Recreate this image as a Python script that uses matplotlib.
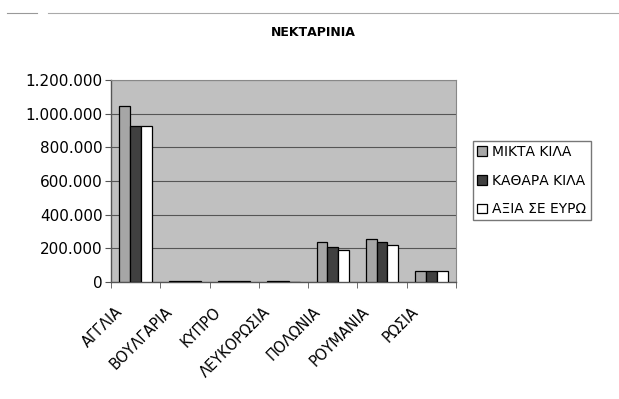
import numpy as np
import matplotlib.pyplot as plt
import matplotlib.transforms as mtransforms
from matplotlib.ticker import FuncFormatter, FixedLocator

plt.rcParams['font.family'] = ['DejaVu Sans']

countries = ['ΑΓΓΛΙΑ', 'ΒΟΥΛΓΑΡΙΑ', 'ΚΥΠΡΟ', 'ΛΕΥΚΟΡΩΣΙΑ', 'ΠΟΛΩΝΙΑ', 'ΡΟΥΜΑΝΙΑ', 'ΡΩΣΙΑ']
mikta = [1045000, 5000, 4000, 3000, 236000, 256000, 64000]
kathara = [925000, 4000, 3000, 3000, 210000, 236000, 64000]
axia = [925000, 3000, 3000, 2000, 190000, 222000, 64000]
series_names = ['ΜΙΚΤΑ ΚΙΛΑ', 'ΚΑΘΑΡΑ ΚΙΛΑ', 'ΑΞΙΑ ΣΕ ΕΥΡΩ']
colors = ['#a6a6a6', '#404040', '#ffffff']

fig = plt.figure(figsize=(6.19, 3.99), dpi=100)
ax = fig.add_axes([111 / 619, 1 - 282 / 399, 345 / 619, 202 / 399])
ax.set_facecolor('#c0c0c0')

x = np.arange(len(countries))
w = 0.22
for k, (vals, name, c) in enumerate(zip([mikta, kathara, axia], series_names, colors)):
    ax.bar(x + (k - 1) * w, vals, width=w, color=c, edgecolor='black',
           linewidth=0.9, label=name, zorder=3)

ax.set_xlim(-0.5, len(countries) - 0.5)
ax.set_ylim(0, 1200000)
ax.set_yticks(np.arange(0, 1200001, 200000))
ax.yaxis.set_major_formatter(FuncFormatter(lambda v, p: f'{int(v):,}'.replace(',', '.')))
ax.grid(axis='y', color='#555555', linewidth=0.8, zorder=1)
ax.tick_params(axis='y', labelsize=11, length=4, direction='out', color='#555555', pad=2)

ax.set_xticks(x)
ax.set_xticklabels(countries, rotation=45, ha='right', fontsize=10.5)
ax.tick_params(axis='x', which='major', length=0, pad=16)
shift = mtransforms.ScaledTranslation(-10 / 100, 0, fig.dpi_scale_trans)
for lbl in ax.get_xticklabels():
    lbl.set_transform(lbl.get_transform() + shift)
ax.xaxis.set_minor_locator(FixedLocator(np.arange(-0.5, len(countries), 1.0)))
ax.tick_params(axis='x', which='minor', length=4, color='#555555')

for s in ['top', 'right']:
    ax.spines[s].set_color('#888888')
for s in ['left', 'bottom']:
    ax.spines[s].set_color('#555555')
    ax.spines[s].set_linewidth(1.0)

fig.text(313 / 619, 1 - 32 / 399, 'ΝΕΚΤΑΡΙΝΙΑ', ha='center', va='center',
         fontsize=9, fontweight='bold')

leg = fig.legend(loc='upper left', bbox_to_anchor=(473 / 619, 1 - 141 / 399),
                 fontsize=10, frameon=True, fancybox=False, edgecolor='#555555',
                 handlelength=0.7, handleheight=0.7, handletextpad=0.4,
                 labelspacing=1.05, borderpad=0.3, borderaxespad=0)
leg.get_frame().set_linewidth(1.0)

# faint scan lines along the top edge
fig.add_artist(plt.Line2D([7 / 619, 37 / 619], [1 - 13 / 399] * 2, color='#999999', lw=0.8))
fig.add_artist(plt.Line2D([48 / 619, 1.0], [1 - 13 / 399] * 2, color='#aaaaaa', lw=0.8))

fig.savefig('out.png', dpi=100)
